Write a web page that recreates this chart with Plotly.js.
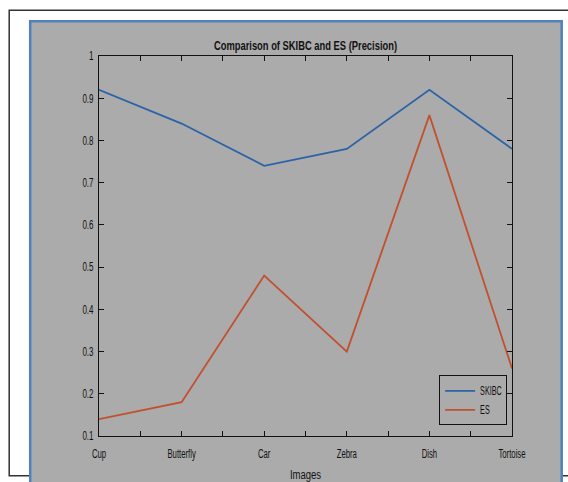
<!DOCTYPE html>
<html>
<head>
<meta charset="utf-8">
<script src="https://cdn.plot.ly/plotly-3.0.1.min.js"></script>
<style>html,body{margin:0;padding:0;background:#fff;}#chart{width:568px;height:482px;}</style>
</head>
<body>
<div id="chart"></div>
<script>
// ---- data ----
const categories = ['Cup', 'Butterfly', 'Car', 'Zebra', 'Dish', 'Tortoise'];
const skibc = [0.92, 0.84, 0.74, 0.78, 0.92, 0.78];
const es    = [0.14, 0.18, 0.48, 0.30, 0.86, 0.26];
const seriesNames = ['SKIBC', 'ES'];
const yTicks = [0.1, 0.2, 0.3, 0.4, 0.5, 0.6, 0.7, 0.8, 0.9, 1];

// ---- layout geometry (pixels) ----
const W = 568, H = 482;
const L = 99.3, R = 512.3, T = 55.7, B = 435.7;
const px = v => (v - L) / (R - L);
const py = v => (B - v) / (B - T);

const FONT = 'Liberation Sans, Arial, sans-serif';
const GRAY = '#ababab';

const xIdx = categories.map((_, i) => i);
const xTickVals = [], xTickText = [];
for (let i = 0; i < categories.length; i++) {
  xTickVals.push(i); xTickText.push(categories[i]);
  if (i < categories.length - 1) { xTickVals.push(i + 0.5); xTickText.push(''); }
}

const traces = [
  {x: xIdx, y: skibc, name: seriesNames[0], type: 'scatter', mode: 'lines',
   line: {color: '#2b63a8', width: 1.8}},
  {x: xIdx, y: es, name: seriesNames[1], type: 'scatter', mode: 'lines',
   line: {color: '#c2502f', width: 1.8}}
];

const layout = {
  width: W, height: H,
  margin: {l: L, r: W - R, t: T, b: H - B, pad: 0},
  paper_bgcolor: '#ffffff',
  plot_bgcolor: GRAY,
  showlegend: true,
  font: {family: FONT, size: 12, color: '#111'},
  title: {text: '<b>Comparison of SKIBC and ES (Precision)</b>',
          font: {family: FONT, size: 13, color: '#111'},
          x: 0.5, xref: 'paper', xanchor: 'center',
          y: 1, yref: 'paper', yanchor: 'bottom', pad: {b: 6}},
  xaxis: {
    range: [0, categories.length - 1], tickmode: 'array',
    tickvals: xTickVals, ticktext: xTickText,
    ticks: 'inside', ticklen: 5, tickcolor: '#111', tickwidth: 1,
    ticklabelstandoff: 6,
    showline: true, linecolor: '#111', linewidth: 1, mirror: 'ticks',
    showgrid: false, zeroline: false, fixedrange: true,
    tickfont: {family: FONT, size: 12.5, color: '#111'},
    title: {text: 'Images', font: {family: FONT, size: 12.5, color: '#111'}, standoff: 12}
  },
  yaxis: {
    range: [0.1, 1], tickmode: 'array', tickvals: yTicks,
    ticktext: yTicks.map(v => String(v)),
    ticks: 'inside', ticklen: 5, tickcolor: '#111', tickwidth: 1,
    ticklabelstandoff: 2,
    showline: true, linecolor: '#111', linewidth: 1, mirror: 'ticks',
    showgrid: false, zeroline: false, fixedrange: true,
    tickfont: {family: FONT, size: 12.5, color: '#111'}
  },
  legend: {
    x: px(507), xanchor: 'right', y: py(375), yanchor: 'top',
    bgcolor: GRAY, bordercolor: '#111', borderwidth: 1,
    font: {family: FONT, size: 12, color: '#111'},
    itemwidth: 30, tracegroupgap: 0
  },
  shapes: [
    // outer black frame
    {type: 'rect', xref: 'paper', yref: 'paper', layer: 'below',
     x0: px(9.5), x1: px(640), y0: py(475.5), y1: py(10),
     line: {color: '#333', width: 1.5}, fillcolor: 'rgba(0,0,0,0)'},
    // gray figure panel with blue border
    {type: 'rect', xref: 'paper', yref: 'paper', layer: 'below',
     x0: px(30.5), x1: px(562), y0: py(495), y1: py(21),
     line: {color: '#4f81bd', width: 2.5}, fillcolor: GRAY}
  ]
};

// The reference text is rendered tall and condensed; squeeze glyphs horizontally.
function squeeze(selector, factor) {
  let maxW = 0;
  document.querySelectorAll(selector).forEach(t => {
    const w = t.getComputedTextLength();
    if (w > 0) {
      t.setAttribute('textLength', (w * factor).toFixed(1));
      t.setAttribute('lengthAdjust', 'spacingAndGlyphs');
      maxW = Math.max(maxW, w * factor);
    }
  });
  return maxW;
}

Plotly.newPlot('chart', traces, layout, {displayModeBar: false, staticPlot: true}).then(() => {
  squeeze('#chart .gtitle', 0.72);
  squeeze('#chart .xtick text', 0.62);
  squeeze('#chart .ytick text', 0.64);
  squeeze('#chart .g-xtitle text', 0.76);
  const legW = squeeze('#chart .legendtext', 0.6);
  // tighten the legend box around the condensed text, keeping its right edge
  const leg = document.querySelector('#chart .legend');
  const bg = leg && leg.querySelector('rect.bg');
  if (bg && legW > 0) {
    const oldW = +bg.getAttribute('width');
    const newW = 40 + legW + 5;
    const m = (leg.getAttribute('transform') || '').match(/translate\(\s*([-\d.]+)[ ,]+([-\d.]+)\s*\)/);
    if (m && newW < oldW) {
      bg.setAttribute('width', newW.toFixed(1));
      leg.setAttribute('transform', 'translate(' + (+m[1] + oldW - newW).toFixed(1) + ',' + m[2] + ')');
    }
  }
});
</script>
</body>
</html>
